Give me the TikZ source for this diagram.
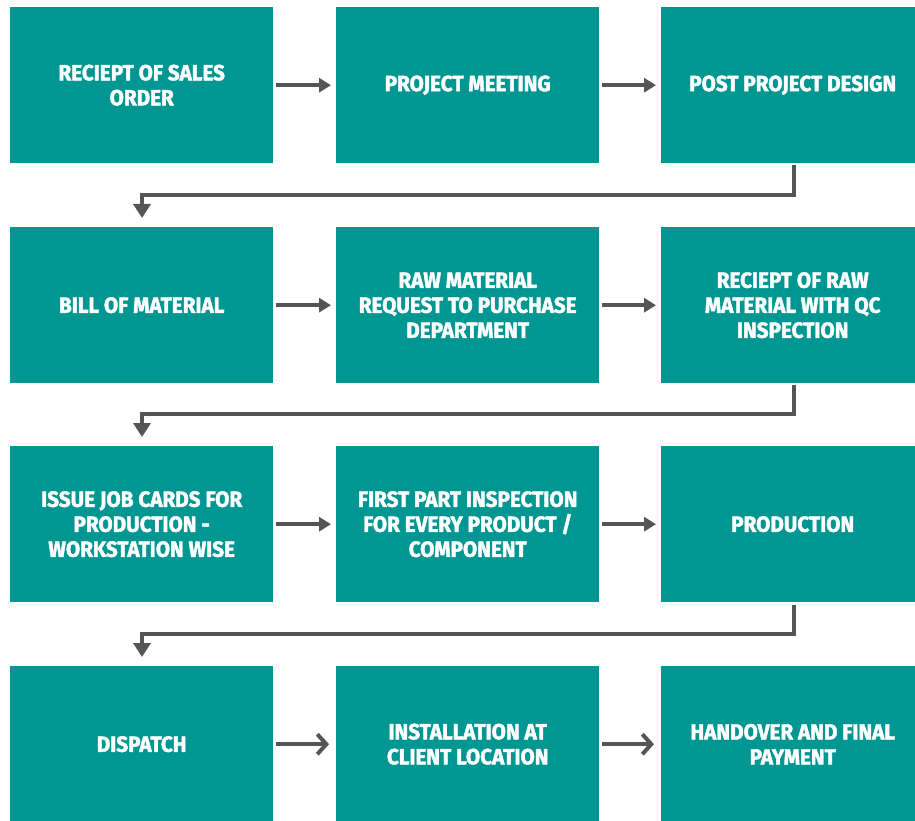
\documentclass[tikz,border=0pt]{standalone}
\usepackage{fontspec}
\newfontfamily\boxfont[FakeStretch=0.94,FakeBold=2]{Fira Sans}
\usetikzlibrary{arrows.meta}
\definecolor{teal1}{RGB}{0,150,146}
\definecolor{arrgray}{RGB}{85,85,85}
\begin{document}
\begin{tikzpicture}[x=1pt,y=-1pt,
  stepbox/.style={fill=teal1,draw=none,minimum height=156pt,minimum width=263pt,inner sep=0pt,align=center,
    text=white,font=\boxfont\bfseries\fontsize{22}{25}\selectfont,anchor=north west},
  flow/.style={draw=arrgray,line width=4pt,-{Triangle[length=12pt,width=14pt]}},
  flowb/.style={draw=arrgray,line width=4pt,-{Straight Barb[length=9pt,width=20pt,line width=4pt]}},
  turn/.style={draw=arrgray,line width=4pt,-{Triangle[length=14pt,width=17pt]}}]
\useasboundingbox (0,0) rectangle (915,821);
% row 1
\node[stepbox] (a1) at (10,7) {RECIEPT OF SALES\\ORDER};
\node[stepbox] (a2) at (336,7) {PROJECT MEETING};
\node[stepbox] (a3) at (661,7) {POST PROJECT DESIGN};
% row 2
\node[stepbox] (b1) at (10,227) {BILL OF MATERIAL};
\node[stepbox] (b2) at (336,227) {RAW MATERIAL\\REQUEST TO PURCHASE\\DEPARTMENT};
\node[stepbox] (b3) at (661,227) {RECIEPT OF RAW\\MATERIAL WITH QC\\INSPECTION};
% row 3
\node[stepbox] (c1) at (10,446) {ISSUE JOB CARDS FOR\\PRODUCTION -\\WORKSTATION WISE};
\node[stepbox] (c2) at (336,446) {FIRST PART INSPECTION\\FOR EVERY PRODUCT /\\COMPONENT};
\node[stepbox] (c3) at (661,446) {PRODUCTION};
% row 4
\node[stepbox] (d1) at (10,666) {DISPATCH};
\node[stepbox] (d2) at (336,666) {INSTALLATION AT\\CLIENT LOCATION};
\node[stepbox] (d3) at (661,666) {HANDOVER AND FINAL\\PAYMENT};
% horizontal arrows
\draw[flow] ([xshift=3pt]a1.east) -- ([xshift=-5pt]a2.west);
\draw[flow] ([xshift=3pt]a2.east) -- ([xshift=-5pt]a3.west);
\draw[flow] ([xshift=3pt]b1.east) -- ([xshift=-5pt]b2.west);
\draw[flow] ([xshift=3pt]b2.east) -- ([xshift=-5pt]b3.west);
\draw[flow] ([xshift=3pt]c1.east) -- ([xshift=-5pt]c2.west);
\draw[flow] ([xshift=3pt]c2.east) -- ([xshift=-5pt]c3.west);
\draw[flowb] ([xshift=3pt]d1.east) -- ([xshift=-7pt]d2.west);
\draw[flowb] ([xshift=3pt]d2.east) -- ([xshift=-7pt]d3.west);
% turn connectors
\coordinate (t1) at (794,165);
\coordinate (t2) at (794,385);
\coordinate (t3) at (794,605);
\draw[turn] (t1) |- (142,195) -- ([yshift=9pt]b1.north -| 142,0);
\draw[turn] (t2) |- (142,414) -- ([yshift=9pt]c1.north -| 142,0);
\draw[turn] (t3) |- (142,634) -- ([yshift=9pt]d1.north -| 142,0);
\end{tikzpicture}
\end{document}
